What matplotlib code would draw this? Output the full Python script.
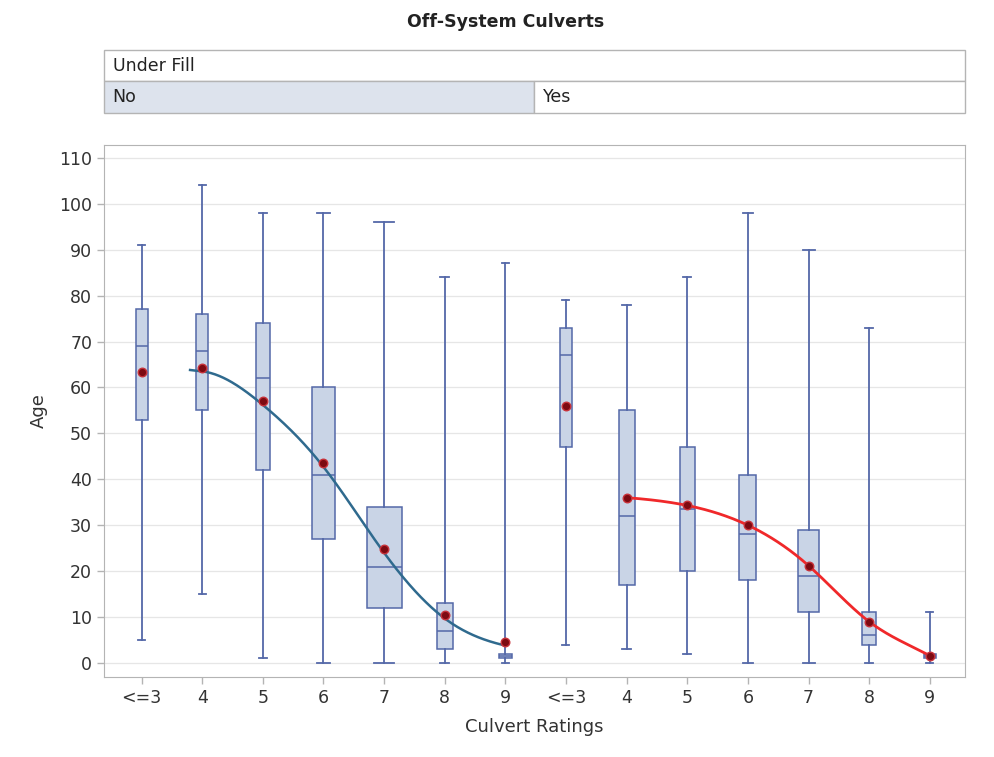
import matplotlib
matplotlib.use("Agg")
import matplotlib.pyplot as plt
import numpy as np

# rating categories, repeated for each Under Fill panel
ratings = ["<=3", "4", "5", "6", "7", "8", "9"]
fill_groups = ["No", "Yes"]

# box statistics per rating (Under Fill = No)
no_whislo = [5, 15, 1, 0, 0, 0, 0]
no_q1 = [53, 55, 42, 27, 12, 3, 1]
no_med = [69, 68, 62, 41, 21, 7, 1.5]
no_q3 = [77, 76, 74, 60, 34, 13, 2]
no_whishi = [91, 104, 98, 98, 96, 84, 87]
no_mean = [63.4, 64.3, 57.0, 43.5, 24.8, 10.5, 4.6]
no_width = [0.20, 0.20, 0.22, 0.38, 0.58, 0.26, 0.21]

# box statistics per rating (Under Fill = Yes)
yes_whislo = [4, 3, 2, 0, 0, 0, 0]
yes_q1 = [47, 17, 20, 18, 11, 4, 1]
yes_med = [67, 32, 33.5, 28, 19, 6, 1.5]
yes_q3 = [73, 55, 47, 41, 29, 11, 2]
yes_whishi = [79, 78, 84, 98, 90, 73, 11]
yes_mean = [56.0, 36.0, 34.3, 30.0, 21.2, 9.0, 1.6]
yes_width = [0.21, 0.26, 0.25, 0.28, 0.36, 0.23, 0.20]

box_face = "#c9d4e6"
box_edge = "#5468a8"
grid_col = "#e6e6e6"
frame_col = "#b4b4b4"
text_col = "#333333"


def clamped_spline(x, y, xs, s0, s1):
    # cubic spline through the means with fixed end slopes
    x = np.asarray(x, float)
    y = np.asarray(y, float)
    n = len(x)
    h = np.diff(x)
    A = np.zeros((n, n))
    b = np.zeros(n)
    A[0, 0], A[0, 1] = 2 * h[0], h[0]
    b[0] = 6 * ((y[1] - y[0]) / h[0] - s0)
    A[-1, -2], A[-1, -1] = h[-1], 2 * h[-1]
    b[-1] = 6 * (s1 - (y[-1] - y[-2]) / h[-1])
    for k in range(1, n - 1):
        A[k, k - 1], A[k, k], A[k, k + 1] = h[k - 1], 2 * (h[k - 1] + h[k]), h[k]
        b[k] = 6 * ((y[k + 1] - y[k]) / h[k] - (y[k] - y[k - 1]) / h[k - 1])
    M = np.linalg.solve(A, b)
    xc = np.clip(xs, x[0], x[-1])
    i = np.clip(np.searchsorted(x, xc) - 1, 0, n - 2)
    a = x[i + 1] - xc
    c = xc - x[i]
    hi = h[i]
    out = (M[i] * a**3 + M[i + 1] * c**3) / (6 * hi) \
        + (y[i] / hi - M[i] * hi / 6) * a + (y[i + 1] / hi - M[i + 1] * hi / 6) * c
    # short flat lead-in before the first mean
    return np.where(xs < x[0], y[0] + s0 * (xs - x[0]), out)


fig = plt.figure(figsize=(9.95, 7.57), dpi=100)
fig.patch.set_facecolor("white")

ax = fig.add_axes([0.1045, 0.1057, 0.8653, 0.7028])

stats = []
widths = []
for whislo, q1, med, q3, whishi, mean, w in (
    list(zip(no_whislo, no_q1, no_med, no_q3, no_whishi, no_mean, no_width))
    + list(zip(yes_whislo, yes_q1, yes_med, yes_q3, yes_whishi, yes_mean, yes_width))
):
    stats.append(dict(whislo=whislo, q1=q1, med=med, q3=q3, whishi=whishi,
                      mean=mean, fliers=[]))
    widths.append(w)

pos = np.arange(len(stats))
ax.bxp(stats, positions=pos, widths=widths,
       capwidths=[w * 0.55 for w in widths],
       patch_artist=True, showmeans=False, showfliers=False,
       boxprops=dict(facecolor=box_face, edgecolor=box_edge, linewidth=1.1),
       whiskerprops=dict(color=box_edge, linewidth=1.3),
       capprops=dict(color=box_edge, linewidth=1.3),
       medianprops=dict(color=box_edge, linewidth=1.1),
       zorder=2)

n = len(ratings)

# trend through the means, ratings 4..9
x_no = pos[1:n]
xs = np.linspace(0.8, x_no[-1] - 0.05, 300)
ax.plot(xs, clamped_spline(x_no, no_mean[1:], xs, -1.5, -3.0) - 0.8,
        color="#2f6a8e", linewidth=1.8, zorder=3)

x_yes = pos[n + 1:]
xs = np.linspace(x_yes[0], x_yes[-1], 300)
ax.plot(xs, clamped_spline(x_yes, yes_mean[1:], xs, -1.0, -7.0),
        color="#f0282a", linewidth=2.0, zorder=3)

ax.scatter(pos, no_mean + yes_mean, s=38, color="#7d0a12", edgecolor="#c8323a",
           linewidth=1.0, zorder=4)

ax.set_xlim(-0.62, 13.58)
ax.set_ylim(-3.05, 112.8)
ax.set_xticks(pos)
ax.set_xticklabels(ratings * len(fill_groups))
ax.set_yticks(np.arange(0, 111, 10))
ax.yaxis.grid(True, color=grid_col, linewidth=0.9)
ax.set_axisbelow(True)
ax.tick_params(axis="both", colors=frame_col, labelcolor=text_col, labelsize=12.5,
               length=5, width=1)
for s in ax.spines.values():
    s.set_color(frame_col)
ax.set_xlabel("Culvert Ratings", fontsize=13, color=text_col, labelpad=8)
ax.set_ylabel("Age", fontsize=13, color=text_col, labelpad=8)

# panel header: Under Fill / No | Yes
hdr = fig.add_axes([0.1045, 0.8507, 0.8653, 0.0833])
hdr.set_xlim(0, 2)
hdr.set_ylim(0, 2)
hdr.axis("off")
hdr.add_patch(plt.Rectangle((0, 1), 2, 1, facecolor="white", edgecolor=frame_col,
                            lw=1, clip_on=False))
hdr.add_patch(plt.Rectangle((0, 0), 1, 1, facecolor="#dde3ed", edgecolor=frame_col,
                            lw=1, clip_on=False))
hdr.add_patch(plt.Rectangle((1, 0), 1, 1, facecolor="white", edgecolor=frame_col,
                            lw=1, clip_on=False))
hdr.text(0.02, 1.5, "Under Fill", va="center", ha="left", fontsize=12.5, color="#222222")
for i, g in enumerate(fill_groups):
    hdr.text(i + 0.02, 0.5, g, va="center", ha="left", fontsize=12.5, color="#222222")

fig.text(0.508, 0.971, "Off-System Culverts", ha="center", va="center",
         fontsize=12.5, fontweight="bold", color="#222222")

fig.savefig("out.png", dpi=100)
